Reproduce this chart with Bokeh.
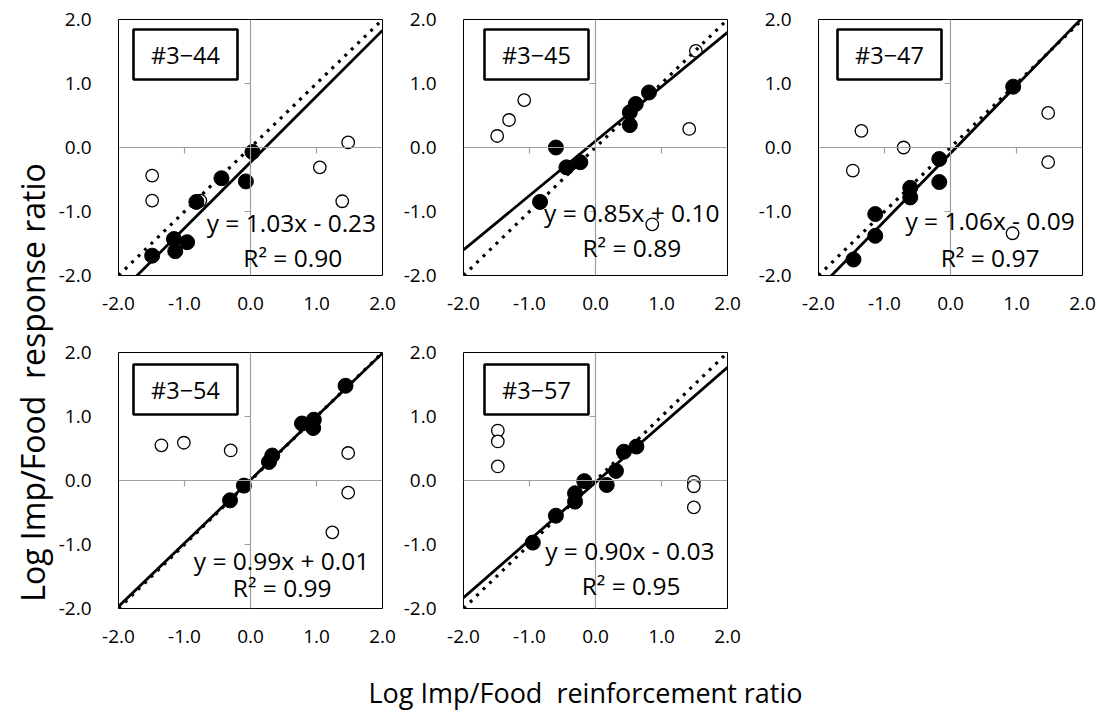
import math
from bokeh.plotting import figure
from bokeh.models import Span, Label, BoxAnnotation, FixedTicker, NumeralTickFormatter, Range1d
from bokeh.layouts import row, column
from bokeh.embed import file_html
from bokeh.resources import INLINE

# ---------------- data ----------------
subjects = ["#3\u221244", "#3\u221245", "#3\u221247", "#3\u221254", "#3\u221257"]
slopes = [1.03, 0.85, 1.06, 0.99, 0.90]
intercepts = [-0.23, 0.10, -0.09, 0.01, -0.03]
r_squared = [0.90, 0.89, 0.97, 0.99, 0.95]

s44_fill_x = [0.03, -0.07, -0.44, -0.82, -0.96, -1.16, -1.14, -1.49]
s44_fill_y = [-0.07, -0.53, -0.48, -0.85, -1.48, -1.43, -1.62, -1.69]
s44_open_x = [-1.49, -1.49, -0.76, 1.48, 1.05, 1.39]
s44_open_y = [-0.44, -0.83, -0.83, 0.08, -0.31, -0.84]

s45_fill_x = [-0.60, -0.44, -0.23, -0.84, 0.52, 0.52, 0.61, 0.81]
s45_fill_y = [0.00, -0.31, -0.23, -0.85, 0.35, 0.55, 0.68, 0.86]
s45_open_x = [-1.49, -1.31, -1.08, 1.52, 1.42, 0.86]
s45_open_y = [0.18, 0.43, 0.74, 1.51, 0.29, -1.20]

s47_fill_x = [0.95, -0.17, -0.17, -0.61, -0.61, -1.14, -1.14, -1.47]
s47_fill_y = [0.95, -0.18, -0.54, -0.63, -0.78, -1.04, -1.38, -1.75]
s47_open_x = [-1.35, -0.71, -1.48, 1.48, 1.48, 0.94]
s47_open_y = [0.26, 0.00, -0.36, 0.54, -0.23, -1.34]

s54_fill_x = [1.44, 0.78, 0.96, 0.95, 0.33, 0.28, -0.10, -0.31]
s54_fill_y = [1.48, 0.89, 0.95, 0.82, 0.39, 0.29, -0.08, -0.31]
s54_open_x = [-1.35, -1.01, -0.30, 1.48, 1.48, 1.24]
s54_open_y = [0.55, 0.59, 0.47, 0.43, -0.19, -0.81]

s57_fill_x = [0.62, 0.43, 0.31, 0.17, -0.17, -0.31, -0.31, -0.60, -0.95]
s57_fill_y = [0.53, 0.45, 0.15, -0.07, -0.01, -0.20, -0.33, -0.55, -0.97]
s57_open_x = [-1.48, -1.48, -1.48, 1.49, 1.49, 1.49]
s57_open_y = [0.78, 0.61, 0.22, -0.02, -0.09, -0.42]

axis_ticks = [-2, -1, 0, 1, 2]
inner_ticks = [-1, 1]
axis_range = [-2, 2]

x_title = "Log Imp/Food\u00a0\u00a0reinforcement ratio"
y_title = "Log Imp/Food\u00a0\u00a0response ratio"

fill_x = [s44_fill_x, s45_fill_x, s47_fill_x, s54_fill_x, s57_fill_x]
fill_y = [s44_fill_y, s45_fill_y, s47_fill_y, s54_fill_y, s57_fill_y]
open_x = [s44_open_x, s45_open_x, s47_open_x, s54_open_x, s57_open_x]
open_y = [s44_open_y, s45_open_y, s47_open_y, s54_open_y, s57_open_y]

# ---------------- layout / style ----------------
FONT = "Open Sans"
FW, FH = 264, 256
eq_pos = [(0.62, -1.17), (0.55, -1.02), (0.60, -1.14), (0.47, -1.25), (0.52, -1.09)]
r2_pos = [(0.64, -1.72), (0.55, -1.56), (0.60, -1.72), (0.48, -1.67), (0.54, -1.64)]
box_left_px = [15, 21, 19, 15, 21]
box_top_px = [10, 10, 10, 12, 12]
borders = [  # left, right, top, bottom
    (63, 18, 19, 58),
    (63, 28, 19, 58),
    (63, 15, 19, 58),
    (63, 18, 19, 45),
    (63, 28, 19, 45),
]
AXIS_GRAY = "#A0A0A0"


def make_panel(i):
    L, R, T, B = borders[i]
    p = figure(frame_width=FW, frame_height=FH,
               x_range=Range1d(*axis_range), y_range=Range1d(*axis_range),
               min_border_left=L, min_border_right=R, min_border_top=T, min_border_bottom=B,
               output_backend="svg", toolbar_location=None,
               background_fill_color="white", border_fill_color="white")
    p.outline_line_color = "black"
    p.outline_line_width = 1
    p.outline_line_alpha = 1
    p.xgrid.visible = False
    p.ygrid.visible = False
    for ax, standoff in ((p.xaxis[0], 15), (p.yaxis[0], 21)):
        ax.ticker = FixedTicker(ticks=axis_ticks)
        ax.formatter = NumeralTickFormatter(format="0.0")
        ax.axis_line_color = None
        ax.major_tick_line_color = None
        ax.minor_tick_line_color = None
        ax.major_label_standoff = standoff
        ax.major_label_text_font = FONT
        ax.major_label_text_font_size = "19px"
        ax.major_label_text_color = "black"

    # central axes
    p.add_layout(Span(location=0, dimension="height", line_color=AXIS_GRAY, line_width=1.2))
    p.add_layout(Span(location=0, dimension="width", line_color=AXIS_GRAY, line_width=1.2))
    xt_len = 6 / (FH / 4)
    yt_len = 6 / (FW / 4)
    p.segment(x0=inner_ticks, y0=[0] * len(inner_ticks), x1=inner_ticks,
              y1=[-xt_len] * len(inner_ticks), line_color=AXIS_GRAY, line_width=1.2)
    p.segment(x0=[0] * len(inner_ticks), y0=inner_ticks, x1=[-yt_len] * len(inner_ticks),
              y1=inner_ticks, line_color=AXIS_GRAY, line_width=1.2)

    # markers
    p.scatter(open_x[i], open_y[i], size=12.5, marker="circle",
              fill_color="white", line_color="black", line_width=1.3)
    p.scatter(fill_x[i], fill_y[i], size=15, marker="circle",
              fill_color="black", line_color="black")

    # regression and identity lines
    m, b = slopes[i], intercepts[i]
    p.line(axis_range, [m * x + b for x in axis_range], line_color="black", line_width=2.8)
    p.line(axis_range, axis_range, line_color="black", line_width=3.2,
           line_dash="3 6", line_cap="butt")

    # subject box
    bl = axis_range[0] + box_left_px[i] / (FW / 4)
    br = bl + 104 / (FW / 4)
    bt = axis_range[1] - box_top_px[i] / (FH / 4)
    bb = bt - 50 / (FH / 4)
    p.add_layout(BoxAnnotation(left=bl, right=br, top=bt, bottom=bb,
                               fill_color="white", fill_alpha=1,
                               line_color="black", line_width=2.6, line_alpha=1))
    p.add_layout(Label(x=(bl + br) / 2, y=(bt + bb) / 2, text=subjects[i],
                       text_align="center", text_baseline="middle",
                       text_font=FONT, text_font_size="23.5px", text_color="black"))

    sign = "+" if b >= 0 else "-"
    eq = f"y = {m:.2f}x {sign} {abs(b):.2f}"
    p.add_layout(Label(x=eq_pos[i][0], y=eq_pos[i][1], text=eq,
                       text_align="center", text_baseline="middle",
                       text_font=FONT, text_font_size="24.5px", text_color="black"))
    p.add_layout(Label(x=r2_pos[i][0], y=r2_pos[i][1], text=f"R\u00b2 = {r_squared[i]:.2f}",
                       text_align="center", text_baseline="middle",
                       text_font=FONT, text_font_size="24.5px", text_color="black"))
    return p


panels = [make_panel(i) for i in range(5)]

# y axis title
yt = figure(width=55, height=713, x_range=(0, 1), y_range=(0, 1),
            x_axis_location=None, y_axis_location=None, min_border=0,
            output_backend="svg", toolbar_location=None)
yt.outline_line_color = None
yt.xgrid.visible = False
yt.ygrid.visible = False
yt.add_layout(Label(x=32, y=713 - 382, x_units="screen", y_units="screen",
                    text=y_title, angle=math.pi / 2,
                    text_align="center", text_baseline="middle",
                    text_font=FONT, text_font_size="32px", text_color="black"))

# x axis title
xt = figure(width=1042, height=60, x_range=(0, 1), y_range=(0, 1),
            x_axis_location=None, y_axis_location=None, min_border=0,
            output_backend="svg", toolbar_location=None)
xt.outline_line_color = None
xt.xgrid.visible = False
xt.ygrid.visible = False
xt.add_layout(Label(x=585 - 55, y=21, x_units="screen", y_units="screen",
                    text=x_title,
                    text_align="center", text_baseline="middle",
                    text_font=FONT, text_font_size="27px", text_color="black"))

layout = row(yt, column(row(panels[0], panels[1], panels[2]),
                        row(panels[3], panels[4]),
                        xt))

open("out.html", "w").write(file_html(layout, INLINE))
